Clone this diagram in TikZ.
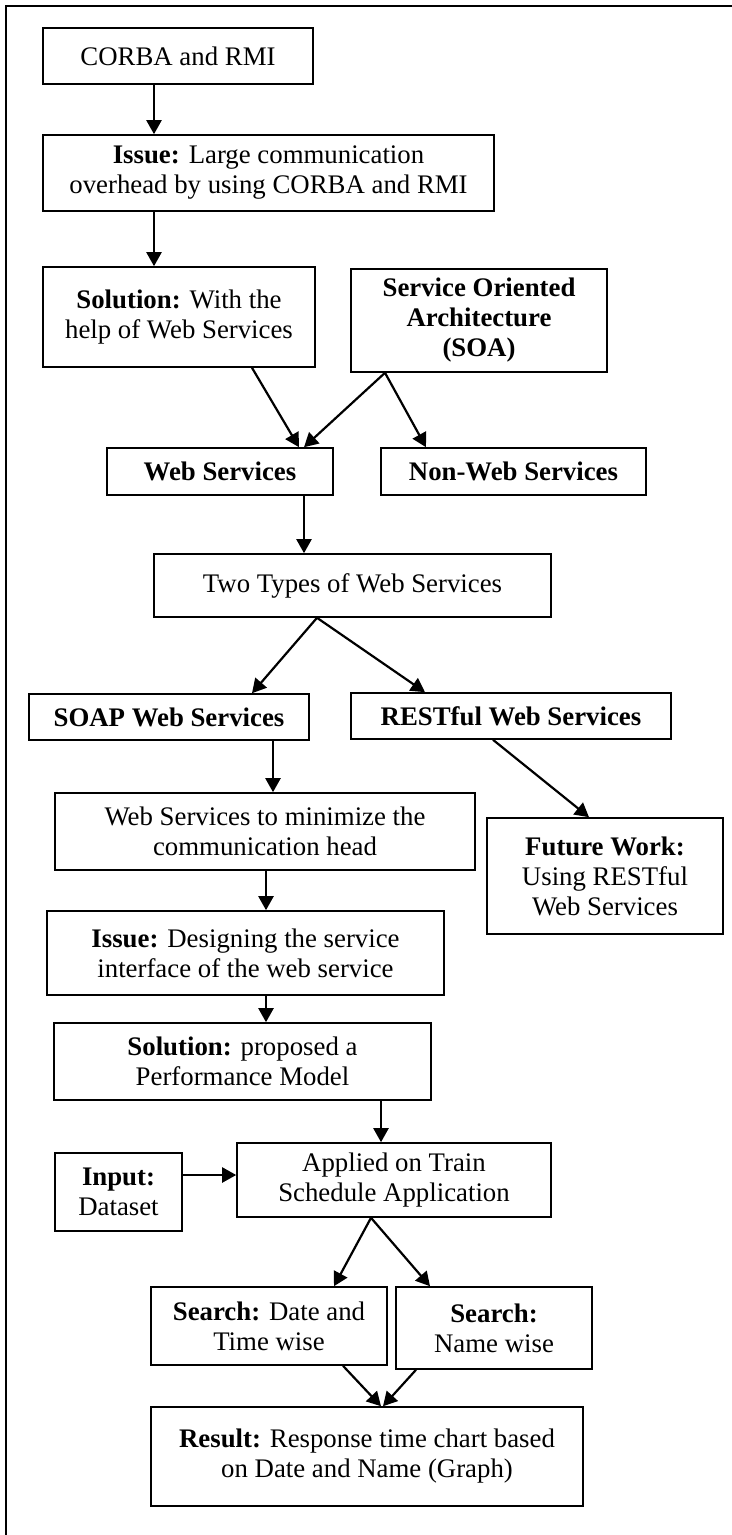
\documentclass[tikz,border=0pt]{standalone}
\usepackage{fontspec}
\setmainfont{Liberation Serif}
\usetikzlibrary{arrows.meta,positioning}

\begin{document}
\begin{tikzpicture}[
    x=0.5pt, y=-0.5pt,
    font=\fontsize{13.4}{15}\selectfont,
    box/.style={rectangle, draw, line width=0.8pt, align=center, inner sep=1pt},
    arrow/.style={-{Triangle[length=7pt,width=7.5pt]}, line width=1.1pt}
]
\useasboundingbox (0,0) rectangle (732,1535);

% outer frame
\draw[line width=1.1pt] (760,6) -- (6,6) -- (6,1560);

% Top part
\node[box, minimum width=135pt, minimum height=28pt] (corba) at (178,56) {CORBA and RMI};
\node[box, minimum width=225.5pt, minimum height=38pt] (issue) at (268.5,173) {\textbf{Issue:} Large communication\\overhead by using CORBA and RMI};
\node[box, minimum width=136pt, minimum height=50pt] (sol) at (179,317) {\textbf{Solution:} With the\\help of Web Services};
\node[box, minimum width=128pt, minimum height=51.5pt] (soa) at (479,320.5) {\textbf{Service Oriented}\\\textbf{Architecture}\\\textbf{(SOA)}};

% Web / Non-Web
\node[box, minimum width=113pt, minimum height=23.5pt] (web) at (220,471.5) {\textbf{Web Services}};
\node[box, minimum width=132.5pt, minimum height=23.5pt] (nonweb) at (513.5,471.5) {\textbf{Non-Web Services}};

% Types
\node[box, minimum width=198.5pt, minimum height=31.5pt] (types) at (352.5,585.5) {Two Types of Web Services};
\node[box, minimum width=140pt, minimum height=23pt] (soap) at (169,717) {\textbf{SOAP Web Services}};
\node[box, minimum width=160pt, minimum height=23pt] (rest) at (511,716) {\textbf{RESTful Web Services}};

\node[box, minimum width=210pt, minimum height=38.5pt] (minim) at (265,831.5) {Web Services to minimize the\\communication head};
\node[box, minimum width=118pt, minimum height=58pt] (future) at (605,876) {\textbf{Future Work:}\\Using RESTful\\Web Services};

% Issue and solution
\node[box, minimum width=198.5pt, minimum height=42pt] (issue2) at (245.5,953) {\textbf{Issue:} Designing the service\\interface of the web service};
\node[box, minimum width=188.5pt, minimum height=38.5pt] (sol2) at (242.5,1061.5) {\textbf{Solution:} proposed a\\Performance Model};

% Application
\node[box, minimum width=157pt, minimum height=37pt] (applied) at (394,1180) {Applied on Train\\Schedule Application};
\node[box, minimum width=63.5pt, minimum height=39pt] (input) at (118.5,1192) {\textbf{Input:}\\Dataset};

% Search and result
\node[box, minimum width=118pt, minimum height=39pt] (search1) at (269,1326) {\textbf{Search:} Date and\\Time wise};
\node[box, minimum width=98pt, minimum height=41pt] (search2) at (494,1328) {\textbf{Search:}\\Name wise};
\node[box, minimum width=216pt, minimum height=49.5pt] (result) at (367,1456.5) {\textbf{Result:} Response time chart based\\on Date and Name (Graph)};

% Arrows
\draw[arrow] (corba.south -| 154,0) -- (issue.north -| 154,0);
\draw[arrow] (issue.south -| 154,0) -- (sol.north -| 154,0);
\draw[arrow] (sol.south -| 252,0) -- (web.north -| 299,0);
\draw[arrow] (soa.south -| 385,0) -- (web.north -| 304,0);
\draw[arrow] (soa.south -| 385,0) -- (nonweb.north -| 426,0);
\draw[arrow] (web.south -| 304,0) -- (types.north -| 304,0);
\draw[arrow] (types.south -| 317,0) -- (soap.north -| 252,0);
\draw[arrow] (types.south -| 317,0) -- (rest.north -| 425,0);
\draw[arrow] (soap.south -| 273,0) -- (minim.north -| 273,0);
\draw[arrow] (rest.south -| 493,0) -- (future.north -| 589,0);
\draw[arrow] (minim.south -| 266,0) -- (issue2.north -| 266,0);
\draw[arrow] (issue2.south -| 266,0) -- (sol2.north -| 266,0);
\draw[arrow] (sol2.south -| 381,0) -- (applied.north -| 381,0);
\draw[arrow] (input.east |- 0,1175) -- (applied.west |- 0,1175);
\draw[arrow] (applied.south -| 371,0) -- (search1.north -| 334,0);
\draw[arrow] (applied.south -| 371,0) -- (search2.north -| 430,0);
\draw[arrow] (search1.south -| 343,0) -- (result.north -| 381,0);
\draw[arrow] (search2.south -| 416,0) -- (result.north -| 383,0);

\end{tikzpicture}
\end{document}
